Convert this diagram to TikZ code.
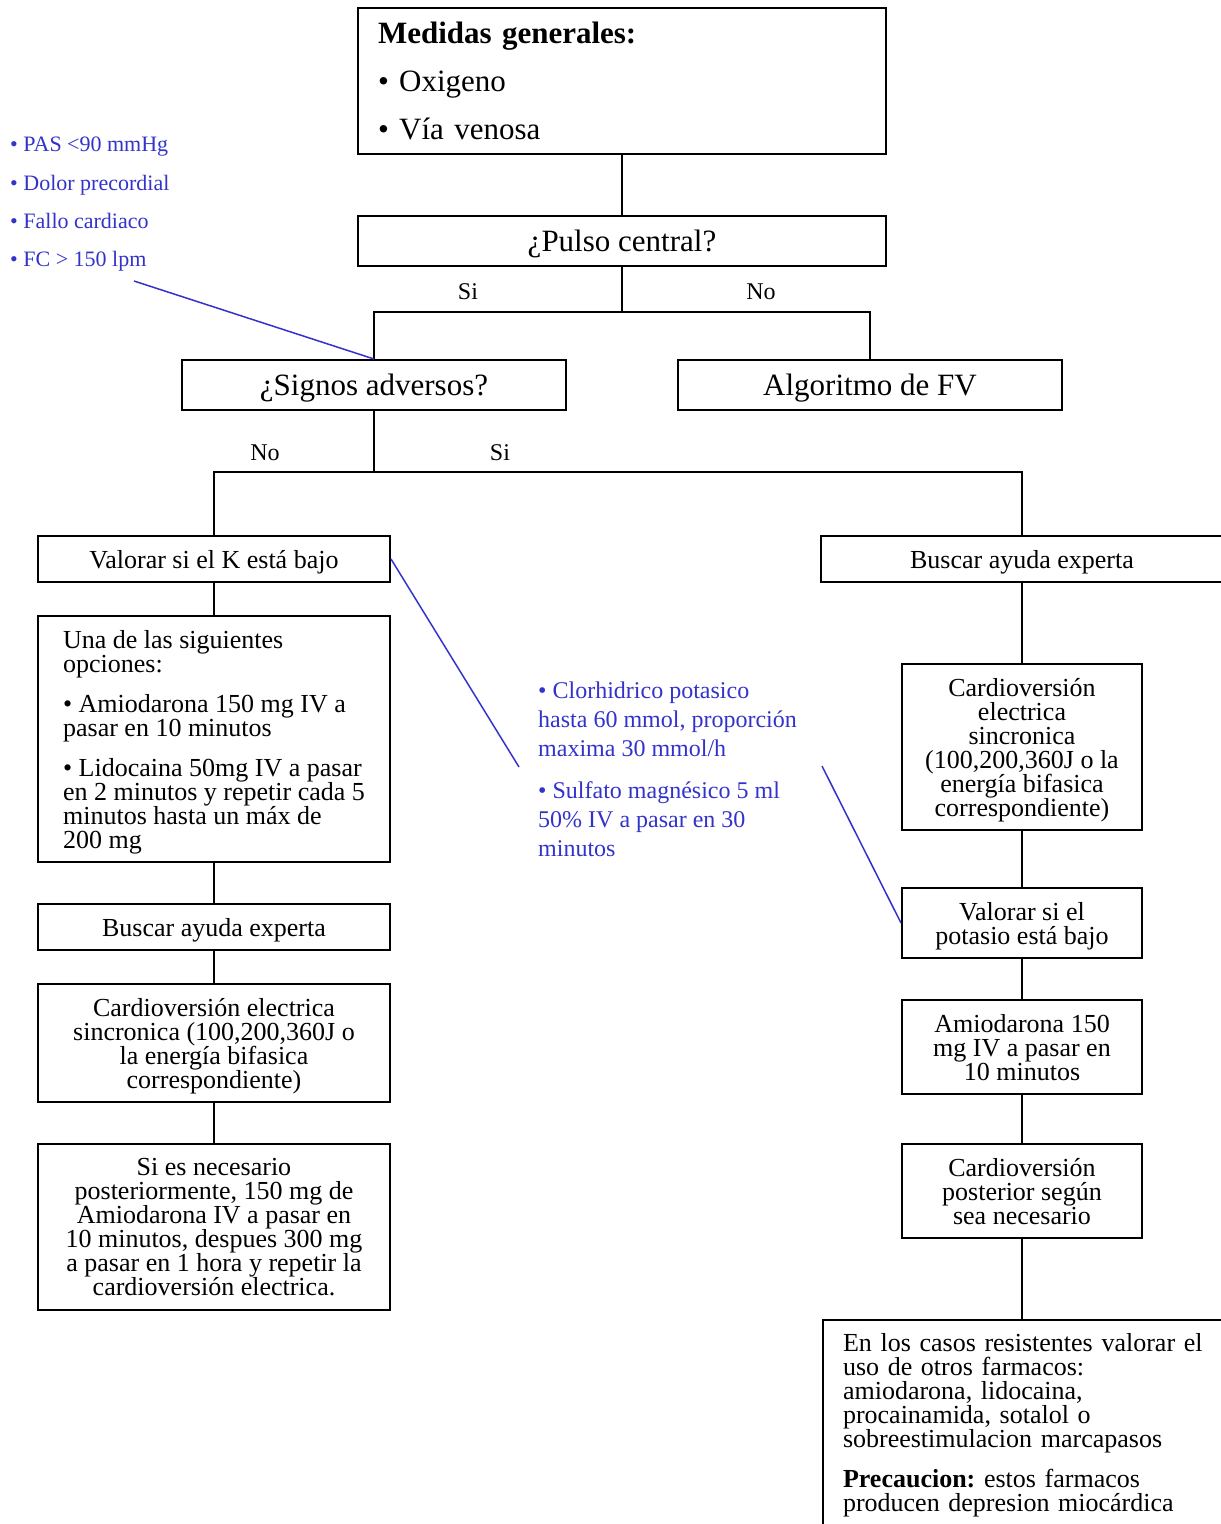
\documentclass[tikz,border=0pt]{standalone}
\usepackage{fontspec}
\setmainfont{Liberation Serif}
\definecolor{bl}{RGB}{51,51,204}
\lineskiplimit=-100pt
\frenchspacing
\begin{document}
\begin{tikzpicture}[x=1pt,y=-1pt,
  boxbase/.style={draw, line width=2pt, inner sep=0pt, align=center, font=\fontsize{26}{24}\selectfont},
  box/.style={boxbase, text depth=0pt},
  big/.style={font=\fontsize{31}{48}\selectfont},
  lab/.style={font=\fontsize{24}{28}\selectfont, inner sep=0pt},
  bltxt/.style={text=bl, inner sep=0pt, align=left},
  conn/.style={line width=2pt},
  bline/.style={draw=bl, line width=1.5pt}
]
\useasboundingbox (0,0) rectangle (1221,1524);
\fill[white] (0,0) rectangle (1221,1524);

% top
\node[boxbase, big, minimum width=528, minimum height=146, text width=488, align=left] (med) at (622,81)
  {\textbf{Medidas generales:}\\ • Oxigeno\\ • Vía venosa};
\node[box, big, minimum width=528, minimum height=50] (pulso) at (622,241) {¿Pulso central?};
\node[box, big, minimum width=384, minimum height=50] (signos) at (374,385) {¿Signos adversos?};
\node[box, big, minimum width=384, minimum height=50] (algo) at (870,385) {Algoritmo de FV};

\node[lab] (si1) at (468,292) {Si};
\node[lab] (no1) at (761,292) {No};
\node[lab] (no2) at (265,453) {No};
\node[lab] (si2) at (500,453) {Si};

% left column
\node[box, minimum width=352, minimum height=46] (valk) at (214,559) {Valorar si el K está bajo};
\node[box, minimum width=352, minimum height=246, align=left] (opc) at (214,739)
  {Una de las siguientes\\ opciones:\\[16pt] • Amiodarona 150 mg IV a\\ pasar en 10 minutos\\[16pt] • Lidocaina 50mg IV a pasar\\ en 2 minutos y repetir cada 5\\ minutos hasta un máx de\\ 200 mg};
\node[box, minimum width=352, minimum height=46] (buscL) at (214,927) {Buscar ayuda experta};
\node[box, minimum width=352, minimum height=118] (cardL) at (214,1043)
  {Cardioversión electrica\\ sincronica (100,200,360J o\\ la energía bifasica\\ correspondiente)};
\node[box, minimum width=352, minimum height=166] (sies) at (214,1227)
  {Si es necesario\\ posteriormente, 150 mg de\\ Amiodarona IV a pasar en\\ 10 minutos, despues 300 mg\\ a pasar en 1 hora y repetir la\\ cardioversión electrica.};

% right column
\node[box, minimum width=402, minimum height=46] (buscR) at (1022,559) {Buscar ayuda experta};
\node[box, minimum width=240, minimum height=166] (cardR) at (1022,747)
  {Cardioversión\\ electrica\\ sincronica\\ (100,200,360J o la\\ energía bifasica\\ correspondiente)};
\node[box, minimum width=240, minimum height=70] (valpot) at (1022,923) {Valorar si el\\ potasio está bajo};
\node[box, minimum width=240, minimum height=94] (amio) at (1022,1047) {Amiodarona 150\\ mg IV a pasar en\\ 10 minutos};
\node[box, minimum width=240, minimum height=94] (cardP) at (1022,1191) {Cardioversión\\ posterior según\\ sea necesario};
\node[boxbase, anchor=north west, text width=370, align=left, inner xsep=20pt, inner ysep=13pt] (casos) at (822,1319)
  {En los casos resistentes valorar el\\ uso de otros farmacos:\\ amiodarona, lidocaina,\\ procainamida, sotalol o\\ sobreestimulacion marcapasos\\[16pt] \textbf{Precaucion:} estos farmacos\\ producen depresion miocárdica};

% blue notes
\node[bltxt, anchor=north west, font=\fontsize{22}{38.3}\selectfont] (adv) at (10,137)
  {• PAS <90 mmHg\\ • Dolor precordial\\ • Fallo cardiaco\\ • FC > 150 lpm};
\node[bltxt, anchor=north west, font=\fontsize{24}{29}\selectfont] (pot) at (538,681.5)
  {• Clorhidrico potasico\\ hasta 60 mmol, proporción\\ maxima 30 mmol/h\\[13pt] • Sulfato magnésico 5 ml\\ 50\% IV a pasar en 30\\ minutos};

% connectors
\draw[conn] (med.south) -- (pulso.north);
\coordinate (j1) at (622,312);
\draw[conn] (pulso.south) -- (j1);
\draw[conn] (signos.north) |- (j1) -| (algo.north);
\coordinate (j2) at (374,472);
\draw[conn] (signos.south) -- (j2);
\draw[conn] (valk.north) |- (j2) -| (buscR.north);

\draw[conn] (valk.south) -- (opc.north);
\draw[conn] (opc.south) -- (buscL.north);
\draw[conn] (buscL.south) -- (cardL.north);
\draw[conn] (cardL.south) -- (sies.north);

\draw[conn] (buscR.south) -- (cardR.north);
\draw[conn] (cardR.south) -- (valpot.north);
\draw[conn] (valpot.south) -- (amio.north);
\draw[conn] (amio.south) -- (cardP.north);
\draw[conn] (cardP.south) -- (cardP.south |- casos.north);

% blue leader lines
\coordinate (bc1) at (134,281);
\draw[bline] (bc1) -- (signos.north);
\coordinate (bc2) at (519,767);
\draw[bline] (valk.east) -- (bc2);
\coordinate (bc3) at (822,766);
\draw[bline] (bc3) -- (valpot.west);
\end{tikzpicture}
\end{document}
